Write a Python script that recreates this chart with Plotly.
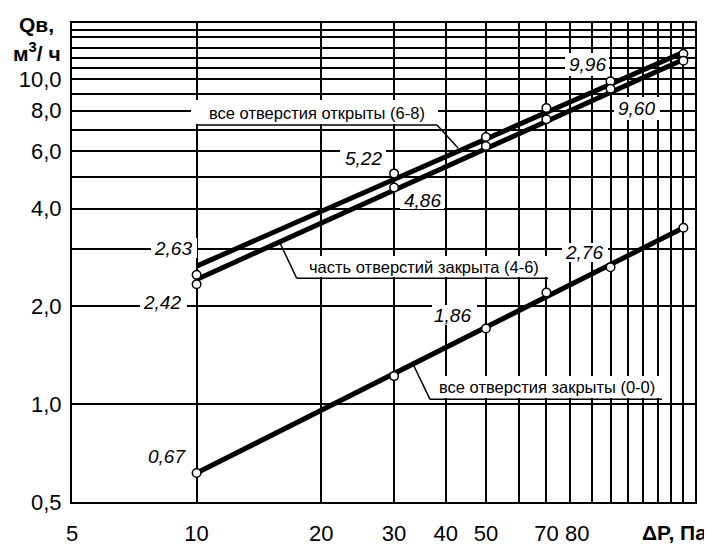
import numpy as np
import plotly.graph_objects as go

# ---------------- data ----------------
dp_points = [10, 30, 50, 70, 100, 150]                 # ΔP, Па
q_open_points = [2.50, 5.13, 6.64, 8.15, 9.85, 11.98]   # все отверстия открыты (6-8)
q_part_points = [2.34, 4.64, 6.23, 7.53, 9.35, 11.40]   # часть отверстий закрыта (4-6)
q_closed_points = [0.614, 1.22, 1.71, 2.205, 2.64, 3.49]  # все отверстия закрыты (0-0)

dp_fit = [10, 150]
q_open_fit = [2.66, 12.1]
q_part_fit = [2.42, 11.5]
q_closed_fit = [0.614, 3.49]

x_grid = [5, 10, 20, 30, 40, 50, 60, 70, 80, 90, 100, 110, 120, 130, 140, 150, 160]
x_tick_labels = {5: "5", 10: "10", 20: "20", 30: "30", 40: "40", 50: "50", 70: "70"}
x_extra_label = "80"   # drawn slightly right of its gridline, as in the original
y_grid = [0.5, 1, 2, 3, 4, 5, 6, 7, 8, 9, 10, 10.8, 11.6, 12.5, 13.5, 14.2]
y_tick_labels = {0.5: "0,5", 1: "1,0", 2: "2,0", 4: "4,0", 6: "6,0", 8: "8,0", 10: "10,0"}

series_names = ["все отверстия открыты (6-8)",
                "часть отверстий закрыта (4-6)",
                "все отверстия закрыты (0-0)"]
value_texts = ["2,63", "2,42", "0,67", "5,22", "4,86", "9,96", "9,60", "1,86", "2,76"]

# ---------------- layout geometry (pixels) ----------------
# the page body has an 8px margin, so the figure is shifted by 8px
OFF = 8
W, H = 712 - OFF, 545 - OFF
L, R, T, B = 72 - OFF, 17, 23 - OFF, 43
PW, PH = W - L - R, H - T - B


def px(x):  # x in screen pixels -> paper
    return (x - OFF - L) / PW


def py(y):  # y in screen pixels -> paper
    return (H - B - (y - OFF)) / PH


FONT = "Liberation Sans, Arial, sans-serif"
BLACK = "black"

fig = go.Figure()

# fitted lines
for qf in (q_open_fit, q_part_fit, q_closed_fit):
    fig.add_trace(go.Scatter(x=dp_fit, y=qf, mode="lines",
                             line=dict(color=BLACK, width=5), hoverinfo="skip"))
# measured points
for qp in (q_open_points, q_part_points, q_closed_points):
    fig.add_trace(go.Scatter(x=dp_points, y=qp, mode="markers",
                             marker=dict(symbol="circle", size=8.5, color="white",
                                         line=dict(color=BLACK, width=1.5))))

shapes = []
annotations = []


def white_box(x0, x1, y0, y1):
    shapes.append(dict(type="rect", xref="paper", yref="paper",
                       x0=px(x0), x1=px(x1), y0=py(y1), y1=py(y0),
                       fillcolor="white", line=dict(width=0), layer="above"))


def seg(x0, y0, x1, y1):
    shapes.append(dict(type="line", xref="paper", yref="paper",
                       x0=px(x0), y0=py(y0), x1=px(x1), y1=py(y1),
                       line=dict(color=BLACK, width=1.5), layer="above"))


def text(t, x, y, size, italic=False, bold=False, xanchor="center"):
    if bold:
        t = "<b>" + t + "</b>"
    if italic:
        t = "<i>" + t + "</i>"
    annotations.append(dict(text=t, xref="paper", yref="paper", x=px(x), y=py(y),
                            xanchor=xanchor, yanchor="middle", showarrow=False,
                            font=dict(family=FONT, size=size, color=BLACK)))


# series labels with underline and leader lines
series_geo = [
    # text center x, y, box x0, x1, y0, y1, underline x0, x1, y, leader
    (317, 112.7, 191, 438, 100, 124, 198, 437, 125, (437, 125, 458, 148)),
    (424, 267.3, 297, 548, 256, 277, 296.7, 548, 278.3, (296.7, 278.3, 280, 243)),
    (547, 387.3, 430, 662, 376, 398, 430, 662, 399.3, (430, 399.3, 413, 364)),
]
for name, g in zip(series_names, series_geo):
    cx, cy, bx0, bx1, by0, by1, ux0, ux1, uy, ld = g
    white_box(bx0, bx1, by0, by1)
    seg(ux0, uy, ux1, uy)
    seg(*ld)
    text(name, cx, cy, 16.5)

# value labels
value_geo = [
    (173, 248, (151, 197, 238, 258)),
    (162, 302.7, (140, 187, 293, 313)),
    (167, 456, None),
    (363, 159, (340, 386, 148, 169)),
    (422, 200, (400, 444, 193, 209)),
    (587, 64.3, (565, 609, 53, 76)),
    (636, 108.3, (614, 660, 97, 120)),
    (452, 315, (432, 477, 305, 325)),
    (584, 252.7, (562, 608, 243, 262)),
]
for t, (cx, cy, box) in zip(value_texts, value_geo):
    if box:
        white_box(*box)
    text(t, cx, cy, 19, italic=True)

# axis titles and the shifted "80" tick label
text("Qв,", 36, 25, 21, bold=True)
text("м<sup>3</sup>/ ч", 37, 52, 21, bold=True)
text("ΔP, Па", 709, 532, 21, bold=True, xanchor="right")
text(x_extra_label, 577, 533, 22)

fig.update_layout(
    width=W, height=H,
    margin=dict(l=L, r=R, t=T, b=B, pad=0, autoexpand=False),
    paper_bgcolor="white", plot_bgcolor="white",
    showlegend=False,
    shapes=shapes, annotations=annotations,
    font=dict(family=FONT, color=BLACK),
    xaxis=dict(type="log", range=[np.log10(5), np.log10(160)],
               tickmode="array", tickvals=x_grid,
               ticktext=[x_tick_labels.get(v, "") for v in x_grid],
               showgrid=True, gridcolor=BLACK, gridwidth=1.6,
               showline=True, linecolor=BLACK, linewidth=2, mirror=True,
               ticks="", zeroline=False, ticklabelstandoff=11, tickangle=0,
               automargin=False,
               tickfont=dict(family=FONT, size=22, color=BLACK)),
    yaxis=dict(type="log", range=[np.log10(0.5), np.log10(14.89)],
               tickmode="array", tickvals=y_grid,
               ticktext=[y_tick_labels.get(v, "") for v in y_grid],
               showgrid=True, gridcolor=BLACK, gridwidth=1.6,
               showline=True, linecolor=BLACK, linewidth=2, mirror=True,
               ticks="", zeroline=False, ticklabelstandoff=4, automargin=False,
               tickfont=dict(family=FONT, size=22, color=BLACK)),
)

fig.write_html("out.html")
